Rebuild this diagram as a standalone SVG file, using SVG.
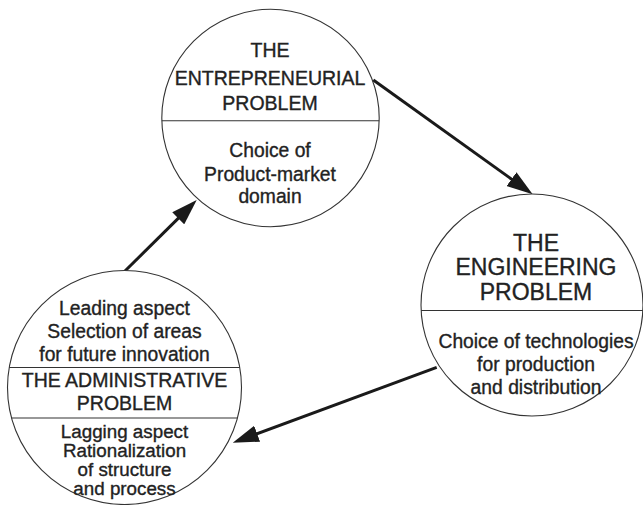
<svg xmlns="http://www.w3.org/2000/svg" width="643" height="505" viewBox="0 0 643 505">
  <style>
    .ring { fill: #fff; stroke: #333; stroke-width: 1.1; }
    .rule { stroke: #333; stroke-width: 1.1; }
    .flow { fill: none; stroke: #1a1a1a; stroke-width: 3; marker-end: url(#head); }
    text { font-family: "Liberation Sans", Arial, Helvetica, sans-serif; fill: #222; stroke: #222; stroke-width: 0.35; text-anchor: middle; }
    .title { font-size: 19.5px; }
    .title-lg { font-size: 23px; }
    .body { font-size: 19.3px; }
    .body-tight { font-size: 18.8px; }
  </style>
  <defs>
    <marker id="head" markerUnits="userSpaceOnUse" markerWidth="26" markerHeight="17" refX="6" refY="8.5" orient="auto">
      <path d="M0,0 L26,8.5 L0,17 Z" fill="#1a1a1a"/>
    </marker>
  </defs>

  <!-- cycle of adaptive problems -->
  <g id="connectors">
    <path class="flow" d="M121.7,274.3 L182.5,214.1"/>
    <path class="flow" d="M373.3,80 L516.4,182.6"/>
    <path class="flow" d="M436.7,367.3 L251.5,435.8"/>
  </g>

  <g id="entrepreneurial">
    <circle class="ring" cx="270.5" cy="118" r="108.7"/>
    <line class="rule" x1="161.8" y1="120.7" x2="379.2" y2="120.7"/>
    <text class="title" x="270" y="57.3">THE</text>
    <text class="title" x="270" y="85">ENTREPRENEURIAL</text>
    <text class="title" x="270" y="110">PROBLEM</text>
    <text class="body" x="270" y="157.3">Choice of</text>
    <text class="body" x="270" y="180.5">Product-market</text>
    <text class="body" x="270" y="202.5">domain</text>
  </g>

  <g id="engineering">
    <circle class="ring" cx="532" cy="305" r="111"/>
    <line class="rule" x1="421.1" y1="310.5" x2="642.9" y2="310.5"/>
    <text class="title-lg" x="536" y="250.7">THE</text>
    <text class="title-lg" x="536" y="275">ENGINEERING</text>
    <text class="title-lg" x="536" y="300">PROBLEM</text>
    <text class="body" x="536" y="348.3">Choice of technologies</text>
    <text class="body" x="536" y="371">for production</text>
    <text class="body" x="536" y="394">and distribution</text>
  </g>

  <g id="administrative">
    <circle class="ring" cx="124.5" cy="387.5" r="117"/>
    <line class="rule" x1="9.2" y1="367.5" x2="239.8" y2="367.5"/>
    <line class="rule" x1="11.5" y1="418" x2="237.5" y2="418"/>
    <text class="body" x="124.5" y="315">Leading aspect</text>
    <text class="body" x="124.5" y="338.3">Selection of areas</text>
    <text class="body" x="124.5" y="360.7">for future innovation</text>
    <text class="title" x="124.5" y="387">THE ADMINISTRATIVE</text>
    <text class="title" x="124.5" y="410">PROBLEM</text>
    <text class="body-tight" x="124.5" y="437.5">Lagging aspect</text>
    <text class="body-tight" x="124.5" y="456.5">Rationalization</text>
    <text class="body-tight" x="124.5" y="475.5">of structure</text>
    <text class="body-tight" x="124.5" y="494.5">and process</text>
  </g>
</svg>
